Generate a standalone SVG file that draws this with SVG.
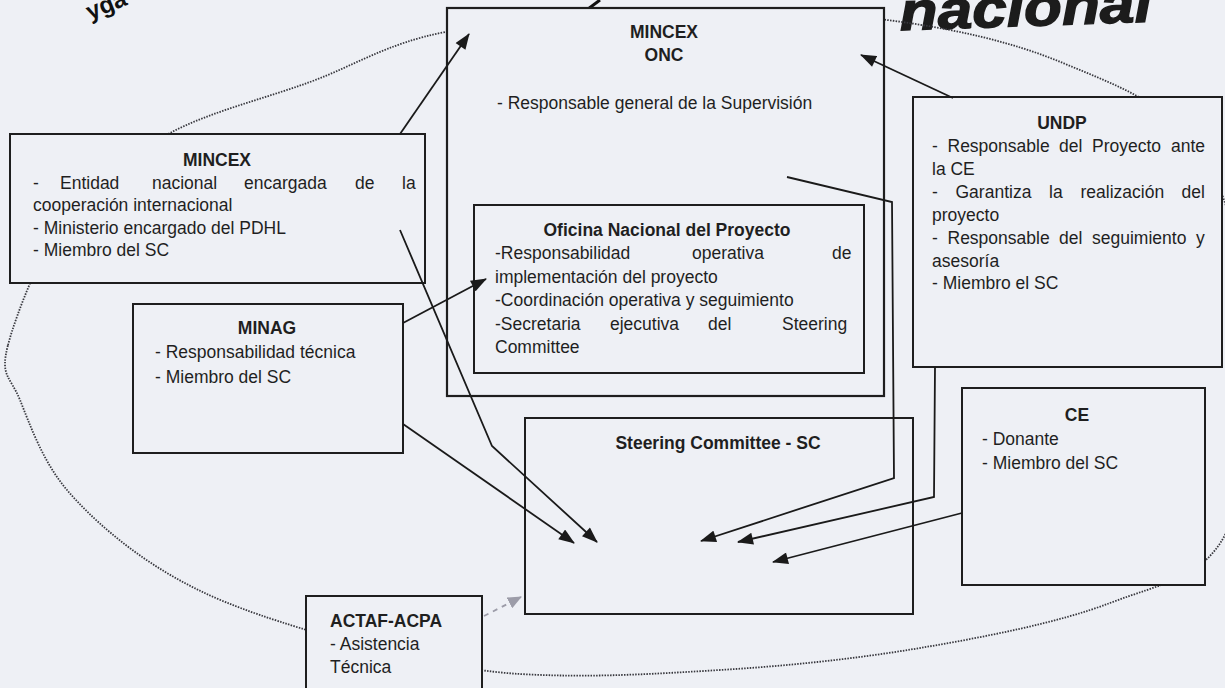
<svg xmlns="http://www.w3.org/2000/svg" width="1225" height="688" viewBox="0 0 1225 688">
<defs>
<style>
text{font-family:"Liberation Sans",Arial,sans-serif;font-size:17.5px;fill:#1f1f1f}
.b{font-weight:bold}
.m{text-anchor:middle}
.box{fill:#eef0f5;stroke:#1e1e1e;stroke-width:2}
.con{fill:none;stroke:#1a1a1a;stroke-width:1.8;marker-end:url(#ah)}
.dash{fill:none;stroke:#9c9ca8;stroke-width:1.8;stroke-dasharray:5 5;marker-end:url(#ahg)}
.oval{fill:none;stroke:#38383e;stroke-width:1.8;stroke-dasharray:1.5 1.3}
</style>
<marker id="ah" viewBox="0 0 16 12" refX="15" refY="6" markerWidth="17" markerHeight="12" markerUnits="userSpaceOnUse" orient="auto"><path d="M0,0 L16,6 L0,12 z" fill="#1a1a1a"/></marker>
<marker id="ahg" viewBox="0 0 14 12" refX="13" refY="6" markerWidth="14" markerHeight="12" markerUnits="userSpaceOnUse" orient="auto"><path d="M0,0 L14,6 L0,12 z" fill="#9c9ca8"/></marker>
</defs>
<rect x="0" y="0" width="1225" height="688" fill="#eef0f5"/>

<g id="title">
<text x="90" y="20" class="b" style="font-size:24px;fill:#111" transform="rotate(-22 90 20)">yga</text>
<text x="900" y="26" class="b" style="font-size:54px;font-style:italic;fill:#1c1c1c;stroke:#1c1c1c;stroke-width:1.4" textLength="252" lengthAdjust="spacingAndGlyphs" transform="rotate(-2 1025 20)">nacional</text>
<path d="M588,9 L600,0" stroke="#111" stroke-width="3" fill="none"/>
</g>

<path id="oval" class="oval" d="M8,345 C16.3,313.3 43,245.3 70,210 C97,174.7 130,154.3 170,133 C210,111.7 264.2,98.8 310,82 C355.8,65.2 385.8,43.7 445,32 C504.2,20.3 591.3,14 665,12 C738.7,10 820.7,11.5 887,20 C953.3,28.5 1010.8,41.3 1063,63 C1115.2,84.7 1168.8,103.8 1200,150 C1231.2,196.2 1245.8,275.8 1250,340 C1254.2,404.2 1248.3,491.2 1225,535 C1201.7,578.8 1160.8,583.5 1110,603 C1059.2,622.5 985,637 920,648 C855,659 786.7,666 720,670 C653.3,674 590,678 520,674 C450,670 358.8,646.2 300,628 C241.2,609.8 205.8,596 167,573 C128.2,550 91.5,518.8 67,490 C42.5,461.2 29.8,424.2 20,400 C10.2,375.8 -0.3,376.7 8,345 Z"/>

<g id="mincex-onc">
<rect class="box" x="447" y="8" width="437" height="388" style="stroke-width:2.2"/>
<text class="b m" x="664" y="38">MINCEX</text>
<text class="b m" x="664" y="61">ONC</text>
<text x="497" y="109">- Responsable general de la Supervisión</text>
</g>

<g id="oficina">
<rect class="box" x="474" y="205" width="390" height="168"/>
<text class="b m" x="667" y="236">Oficina Nacional del Proyecto</text>
<text y="259"><tspan x="495">-Responsabilidad</tspan><tspan x="692">operativa</tspan><tspan x="832">de</tspan></text>
<text x="495" y="283">implementación del proyecto</text>
<text x="495" y="306">-Coordinación operativa y seguimiento</text>
<text y="330"><tspan x="495">-Secretaria</tspan><tspan x="610">ejecutiva</tspan><tspan x="708">del</tspan><tspan x="782">Steering</tspan></text>
<text x="495" y="353">Committee</text>
</g>

<g id="mincex">
<rect class="box" x="10" y="134" width="415" height="149"/>
<text class="b m" x="217" y="166">MINCEX</text>
<text y="189"><tspan x="33">-</tspan><tspan x="60">Entidad</tspan><tspan x="152">nacional</tspan><tspan x="244">encargada</tspan><tspan x="355">de</tspan><tspan x="402">la</tspan></text>
<text x="33" y="211">cooperación internacional</text>
<text x="33" y="234">- Ministerio encargado del PDHL</text>
<text x="33" y="256">- Miembro del SC</text>
</g>

<g id="minag">
<rect class="box" x="133" y="304" width="270" height="149"/>
<text class="b m" x="267" y="334">MINAG</text>
<text x="155" y="358">- Responsabilidad técnica</text>
<text x="155" y="383">- Miembro del SC</text>
</g>

<g id="undp">
<rect class="box" x="913" y="97" width="309" height="270"/>
<text class="b m" x="1062" y="129">UNDP</text>
<text y="152"><tspan x="932">-</tspan><tspan x="947.5">Responsable</tspan><tspan x="1059">del</tspan><tspan x="1092">Proyecto</tspan><tspan x="1171">ante</tspan></text>
<text x="932" y="175">la CE</text>
<text y="198"><tspan x="932">-</tspan><tspan x="955.5">Garantiza</tspan><tspan x="1049">la</tspan><tspan x="1080.5">realización</tspan><tspan x="1181.5">del</tspan></text>
<text x="932" y="221">proyecto</text>
<text y="244"><tspan x="932">-</tspan><tspan x="947.5">Responsable</tspan><tspan x="1059">del</tspan><tspan x="1092">seguimiento</tspan><tspan x="1196">y</tspan></text>
<text x="932" y="267">asesoría</text>
<text x="932" y="289">- Miembro el SC</text>
</g>

<g id="ce">
<rect class="box" x="962" y="388" width="243" height="197"/>
<text class="b m" x="1077" y="421">CE</text>
<text x="982" y="445">- Donante</text>
<text x="982" y="469">- Miembro del SC</text>
</g>

<g id="steering">
<rect class="box" x="525" y="418" width="388" height="196"/>
<text class="b m" x="718" y="449">Steering Committee - SC</text>
</g>

<g id="actaf">
<rect class="box" x="306" y="596" width="176" height="110"/>
<text class="b" x="330" y="627">ACTAF-ACPA</text>
<text x="330" y="650">- Asistencia</text>
<text x="330" y="673">Técnica</text>
</g>

<g id="connectors">
<path class="con" d="M400,134 L469,34"/>
<path class="con" d="M400,230 L492,446 L597,542"/>
<path class="con" d="M403,424 L574,543"/>
<path class="con" d="M403,323 L486,279"/>
<path class="con" d="M953,98 L861,55"/>
<path class="con" d="M787,177 L892,202 L894,478 L701,541"/>
<path class="con" d="M935,367 L934,497 L738,542"/>
<path class="con" d="M962,513 L773,562"/>
<path class="dash" d="M484,616 L521,597"/>
</g>
</svg>
